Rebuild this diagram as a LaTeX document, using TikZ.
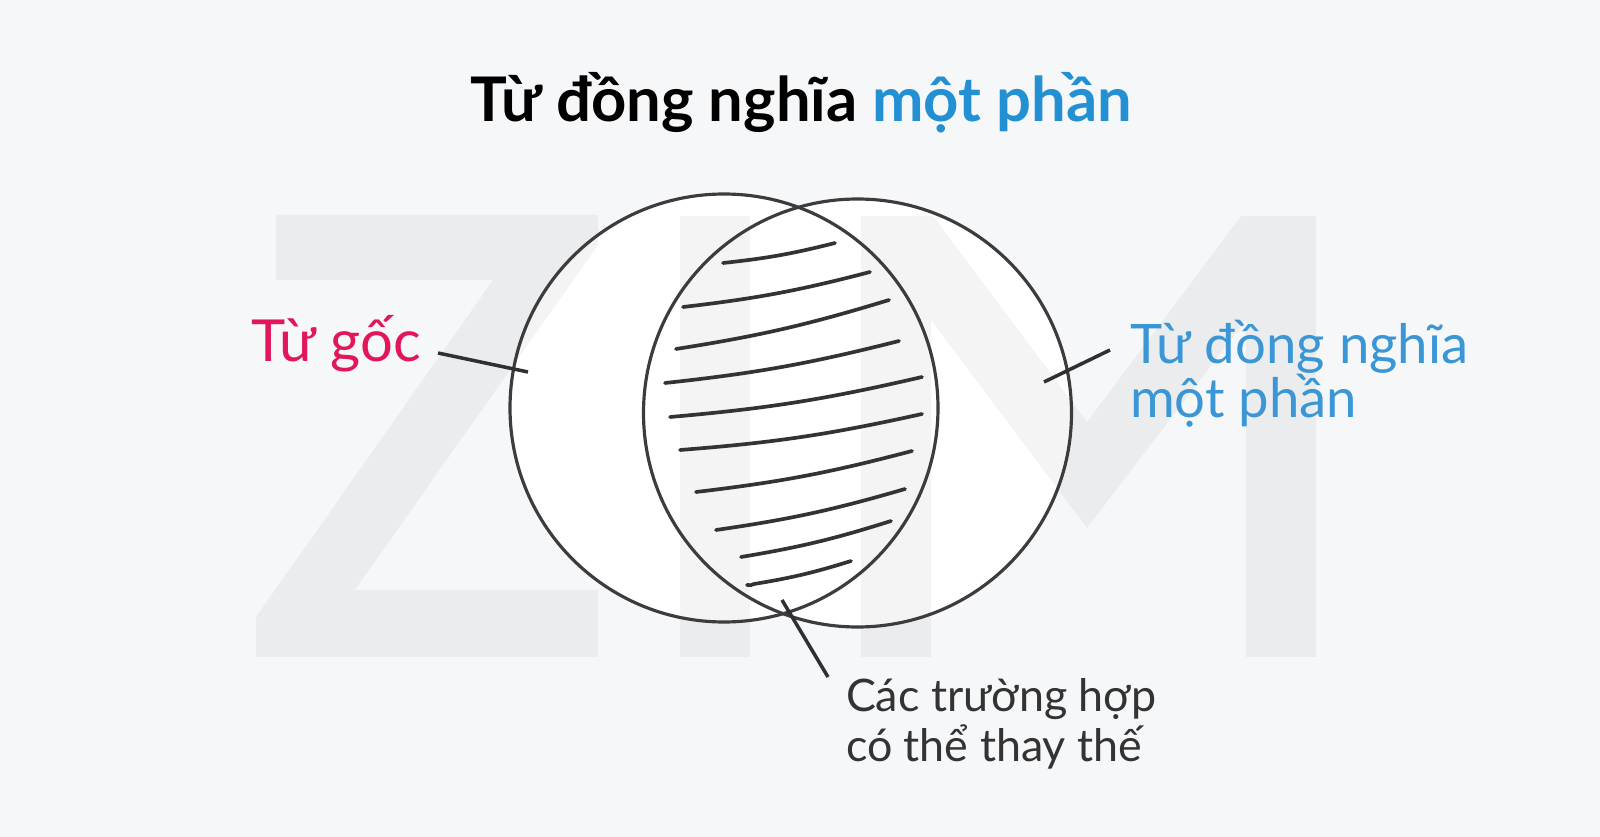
\documentclass[tikz,border=0pt]{standalone}
\usepackage{fontspec}
\setmainfont{Lato}
\definecolor{bgcol}{HTML}{F6F7F9}
\definecolor{inkcol}{HTML}{3C3C3E}
\definecolor{pinkcol}{HTML}{E2175B}
\definecolor{bluecol}{HTML}{2290D3}
\definecolor{lblue}{HTML}{3A96D5}
\definecolor{textcol}{HTML}{333333}
\tikzset{
  ring/.style={circle, fill=white, minimum size=8.56cm},
  ringline/.style={draw=inkcol, line width=1.8pt},
  hatch/.style={draw=inkcol!85!black, line width=2.1pt, line cap=round},
  leader/.style={draw=inkcol!80!black, line width=2pt},
  mark lbl/.style={font=\fontsize{31}{31}\selectfont, align=left},
}
\begin{document}
\begin{tikzpicture}[every node/.style={inner sep=0pt,outer sep=0}, x=0.02cm, y=-0.02cm]
	\fill[bgcol] (0,0) rectangle (1600,837);
	\useasboundingbox (0,0) rectangle (1600,837);

	% the two sets
	\node[ring] (orig) at (724,408) {};
	\node[ring] (syn) at (857.5,413) {};

	% ZIM watermark
	\begin{scope}[fill=black, fill opacity=0.045]
		\fill (276,215) -- (598,215) -- (598,245) -- (355,590) -- (598,590) -- (598,657) -- (256,657) -- (256,617) -- (493,280) -- (276,280) -- cycle;
		\fill (680,216) rectangle (750,657);
		\fill (861,657) -- (861,216) -- (933,216) -- (1087,422) -- (1241,216) -- (1316,216) -- (1316,657) -- (1246,657) -- (1246,320) -- (1087,528) -- (931,320) -- (931,657) -- cycle;
	\end{scope}

	\draw[ringline] (orig.center) circle (214);
	\draw[ringline] (syn.center) circle (214);

	% hatching of the overlap
	\foreach \xa/\ya/\xb/\yb in {723/263/835/243, 683/307/870/272, 676/349/889/300, 665/383/899/341, 670/417/922/377,
		680/450/922/414, 696/492/912/451, 716/530/905/489, 741/557/891/521, 754/584/851/561}{
		\draw[hatch] (\xa,\ya) to[bend right=4] (\xb,\yb);
	}
	\draw[hatch] (747,585) to[bend right=20] (754,584);

	% labels
	\node[font=\bfseries\fontsize{35}{40}\selectfont, anchor=base] (title) at (801,122) {Từ đồng nghĩa \textcolor{bluecol}{một phần}};
	\node[mark lbl, font=\fontsize{33}{31}\selectfont, text=pinkcol, anchor=base east] (orig-lbl) at (421,362) {Từ gốc};
	\node[mark lbl, text=lblue, anchor=base west] (syn-lbl) at (1130,418) {Từ đồng nghĩa\\một phần};
	\node[font=\fontsize{25.5}{29}\selectfont, align=left, text=textcol, anchor=base west] (both-lbl) at (846,762) {Các trường hợp\\có thể thay thế};

	% leaders
	\coordinate (orig-a) at (438,353);
	\coordinate (orig-b) at (528,372);
	\coordinate (syn-a) at (1110,350);
	\coordinate (syn-b) at (1044,382);
	\coordinate (both-a) at (828,677);
	\coordinate (both-b) at (782,600);
	\draw[leader] (orig-a) -- (orig-b);
	\draw[leader] (syn-a) -- (syn-b);
	\draw[leader] (both-a) -- (both-b);
\end{tikzpicture}
\end{document}
